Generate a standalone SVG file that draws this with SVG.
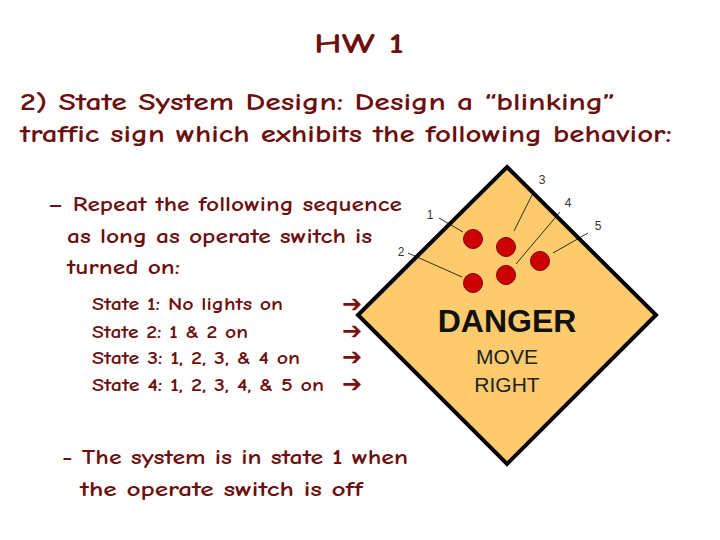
<svg xmlns="http://www.w3.org/2000/svg" width="720" height="540" viewBox="0 0 720 540">
<style>
.t{font-family:"Comic Neue","DejaVu Sans","Liberation Sans",sans-serif;fill:#6b0f0f;font-weight:bold}
.ar{font-family:"DejaVu Sans",sans-serif;fill:#7a0f0f;font-size:24px;font-weight:bold}
.lbl{font-family:"Liberation Sans",Arial,sans-serif;font-size:12px;fill:#333}
.led{fill:#cc0000;stroke:#800000;stroke-width:1}
.ld{stroke:#000;stroke-width:0.8}
</style>
<rect width="720" height="540" fill="#fff"/>
<g id="title"><text class="t" x="314" y="53" font-size="28" textLength="90" lengthAdjust="spacingAndGlyphs">HW 1</text></g>
<g id="text">
<text class="t" x="20" y="110" font-size="24" textLength="595" lengthAdjust="spacingAndGlyphs">2) State System Design: Design a “blinking”</text>
<text class="t" x="20" y="142" font-size="24" textLength="652" lengthAdjust="spacingAndGlyphs">traffic sign which exhibits the following behavior:</text>
<text class="t" x="48" y="211" font-size="21" textLength="354" lengthAdjust="spacingAndGlyphs">– Repeat the following sequence</text>
<text class="t" x="67" y="243" font-size="21" textLength="305" lengthAdjust="spacingAndGlyphs">as long as operate switch is</text>
<text class="t" x="67" y="274" font-size="21" textLength="113" lengthAdjust="spacingAndGlyphs">turned on:</text>
<text class="t" x="92" y="310" font-size="17" textLength="191" lengthAdjust="spacingAndGlyphs">State 1: No lights on</text>
<text class="t" x="92" y="338" font-size="17" textLength="156" lengthAdjust="spacingAndGlyphs">State 2: 1 &amp; 2 on</text>
<text class="t" x="92" y="364" font-size="17" textLength="208" lengthAdjust="spacingAndGlyphs">State 3: 1, 2, 3, &amp; 4 on</text>
<text class="t" x="92" y="391" font-size="17" textLength="232" lengthAdjust="spacingAndGlyphs">State 4: 1, 2, 3, 4, &amp; 5 on</text>
<text class="ar" x="342" y="312">➔</text>
<text class="ar" x="342" y="339">➔</text>
<text class="ar" x="342" y="365">➔</text>
<text class="ar" x="342" y="392">➔</text>
<text class="t" x="62" y="464" font-size="21" textLength="346" lengthAdjust="spacingAndGlyphs">- The system is in state 1 when</text>
<text class="t" x="80" y="496" font-size="21" textLength="283" lengthAdjust="spacingAndGlyphs">the operate switch is off</text>
</g>
<g id="sign">
<polygon points="507,167 656,315 507,464 358,315" fill="#fdcb6e" stroke="#000" stroke-width="4" stroke-linejoin="miter"/>
<text x="507" y="332" font-family="Liberation Sans,Arial,sans-serif" font-weight="bold" font-size="32" text-anchor="middle" fill="#111">DANGER</text>
<text x="507" y="364" font-family="Liberation Sans,Arial,sans-serif" font-size="21" text-anchor="middle" fill="#222">MOVE</text>
<text x="507" y="392" font-family="Liberation Sans,Arial,sans-serif" font-size="21" text-anchor="middle" fill="#222">RIGHT</text>
</g>
<g id="lights">
<circle class="led" cx="473" cy="239" r="9.5"/>
<circle class="led" cx="506" cy="247" r="9.5"/>
<circle class="led" cx="540" cy="261" r="9.5"/>
<circle class="led" cx="506" cy="275" r="9.5"/>
<circle class="led" cx="473" cy="283" r="9.5"/>
</g>
<g id="connectors">
<line class="ld" x1="439" y1="218" x2="463" y2="232"/>
<line class="ld" x1="408" y1="253" x2="462" y2="277"/>
<line class="ld" x1="532" y1="195" x2="514" y2="231"/>
<line class="ld" x1="560" y1="212" x2="516" y2="264"/>
<line class="ld" x1="588" y1="233" x2="553" y2="253"/>
</g>
<g id="labels">
<text class="lbl" x="430" y="219" text-anchor="middle">1</text>
<text class="lbl" x="401" y="256" text-anchor="middle">2</text>
<text class="lbl" x="542" y="184" text-anchor="middle">3</text>
<text class="lbl" x="568" y="207" text-anchor="middle">4</text>
<text class="lbl" x="598" y="230" text-anchor="middle">5</text>
</g>
</svg>
